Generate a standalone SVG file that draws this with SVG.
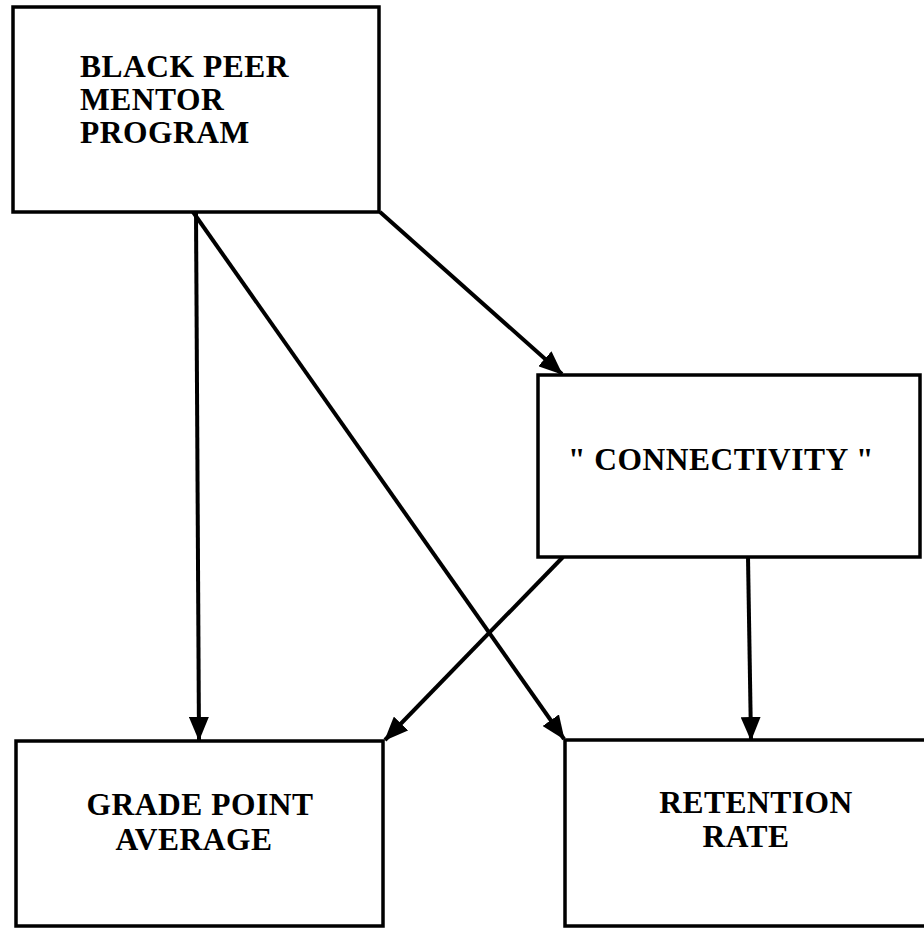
<svg xmlns="http://www.w3.org/2000/svg" width="924" height="929" viewBox="0 0 924 929">
  <style>
    .box { fill: #ffffff; stroke: #000000; stroke-width: 3.5; }
    .lbl { font-family: "Liberation Serif", "DejaVu Serif", serif; font-weight: bold; font-size: 31.5px; letter-spacing: 0.5px; fill: #000000; }
    .edge { fill: none; stroke: #000000; stroke-width: 4; marker-end: url(#head); }
  </style>
  <defs>
    <marker id="head" markerUnits="userSpaceOnUse" markerWidth="24" markerHeight="20" refX="23" refY="10" orient="auto" viewBox="0 0 24 20">
      <path d="M0,0 L24,10 L0,20 z" fill="#000000"/>
    </marker>
  </defs>
  <rect x="0" y="0" width="924" height="929" fill="#ffffff"/>

  <g id="connectors">
    <line class="edge" x1="196" y1="212" x2="199" y2="740"/>
    <line class="edge" x1="193" y1="212" x2="564" y2="739"/>
    <line class="edge" x1="380" y1="212" x2="562" y2="374"/>
    <line class="edge" x1="563" y1="557" x2="385" y2="740"/>
    <line class="edge" x1="748" y1="557" x2="751" y2="740"/>
  </g>

  <g id="mentor-program">
    <rect class="box" x="13" y="7" width="366" height="205"/>
    <text class="lbl" x="80" y="77">BLACK PEER</text>
    <text class="lbl" x="80" y="110">MENTOR</text>
    <text class="lbl" x="80" y="143">PROGRAM</text>
  </g>

  <g id="connectivity">
    <rect class="box" x="538" y="375" width="382" height="182"/>
    <text class="lbl" x="721" y="470" text-anchor="middle">" CONNECTIVITY "</text>
  </g>

  <g id="grade-point-average">
    <rect class="box" x="16" y="741" width="367" height="185"/>
    <text class="lbl" x="200" y="815" text-anchor="middle">GRADE POINT</text>
    <text class="lbl" x="194" y="850" text-anchor="middle">AVERAGE</text>
  </g>

  <g id="retention-rate">
    <rect class="box" x="565" y="740" width="370" height="186"/>
    <text class="lbl" x="756" y="813" text-anchor="middle">RETENTION</text>
    <text class="lbl" x="746" y="847" text-anchor="middle">RATE</text>
  </g>
</svg>
